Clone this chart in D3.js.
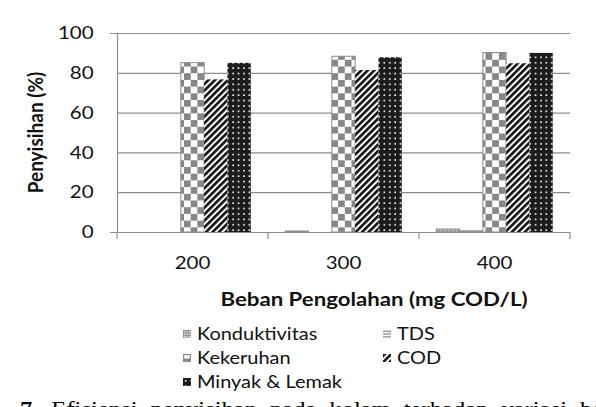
<!DOCTYPE html>
<html>
<head>
<meta charset="utf-8">
<script src="https://cdn.jsdelivr.net/npm/d3@7"></script>
<style>
  body { margin: 0; background: #fff; }
  svg { display: block; }
</style>
</head>
<body>
<svg id="chart" width="596" height="407"></svg>
<script>
'use strict';

// data
const categories = ["200", "300", "400"];
const seriesNames = ["Konduktivitas", "TDS", "Kekeruhan", "COD", "Minyak & Lemak"];
const konduktivitas = [0, 0.5, 1.5];
const tds = [0, 0, 0.6];
const kekeruhan = [85.1, 88.3, 90.2];
const cod = [76.7, 81.4, 84.8];
const minyak = [85.0, 87.8, 90.0];
const yTicks = [0, 20, 40, 60, 80, 100];

const seriesValues = [konduktivitas, tds, kekeruhan, cod, minyak];
const seriesFill = ["url(#pKond)", "url(#pTds)", "url(#pKek)", "url(#pCod)", "url(#pMin)"];
const seriesStroke = ["#8c8c8c", "#8c8c8c", "#8c8c8c", "none", "none"];

const FONT = "Lato, 'Open Sans', sans-serif";
const SX = 1.14; // text in the picture is a bit wider than Lato

function getChartConfig() {
    let margin = { top: 33, right: 26, bottom: 175, left: 117 },
        width = 596 - margin.left - margin.right,
        height = 407 - margin.top - margin.bottom;

    let svg = d3.select("#chart");
    let container = svg.append("g")
        .attr("transform", "translate(" + margin.left + "," + margin.top + ")");

    return { svg, width, height, container, margin };
}

function makePatterns(svg) {
    let defs = svg.append("defs");

    // checker (Kekeruhan)
    let p = defs.append("pattern").attr("id", "pKek")
        .attr("patternUnits", "userSpaceOnUse").attr("width", 13.4).attr("height", 13.4);
    p.append("rect").attr("width", 13.4).attr("height", 13.4).attr("fill", "#fff");
    p.append("rect").attr("width", 6.7).attr("height", 6.7).attr("fill", "#878787");
    p.append("rect").attr("x", 6.7).attr("y", 6.7).attr("width", 6.7).attr("height", 6.7).attr("fill", "#878787");

    // diagonal stripes (COD)
    p = defs.append("pattern").attr("id", "pCod")
        .attr("patternUnits", "userSpaceOnUse").attr("width", 4.6).attr("height", 4.6)
        .attr("patternTransform", "rotate(45)");
    p.append("rect").attr("width", 4.6).attr("height", 4.6).attr("fill", "#fff");
    p.append("rect").attr("width", 2.6).attr("height", 4.6).attr("fill", "#111");

    // dots (Minyak & Lemak)
    p = defs.append("pattern").attr("id", "pMin")
        .attr("patternUnits", "userSpaceOnUse").attr("width", 5.4).attr("height", 5.4);
    p.append("rect").attr("width", 5.4).attr("height", 5.4).attr("fill", "#1c1c1c");
    p.append("rect").attr("x", 2).attr("y", 2).attr("width", 1.6).attr("height", 1.6).attr("fill", "#fff");

    // horizontal lines (TDS)
    p = defs.append("pattern").attr("id", "pTds")
        .attr("patternUnits", "userSpaceOnUse").attr("width", 4).attr("height", 2.6);
    p.append("rect").attr("width", 4).attr("height", 2.6).attr("fill", "#fff");
    p.append("rect").attr("width", 4).attr("height", 1.2).attr("fill", "#8c8c8c");

    // small grid (Konduktivitas)
    p = defs.append("pattern").attr("id", "pKond")
        .attr("patternUnits", "userSpaceOnUse").attr("width", 2.6).attr("height", 2.6);
    p.append("rect").attr("width", 2.6).attr("height", 2.6).attr("fill", "#8c8c8c");
    p.append("rect").attr("x", 1).attr("y", 1).attr("width", 1.4).attr("height", 1.4).attr("fill", "#fff");
}

function getScales(config) {
    let { width, height } = config;
    let xScale = d3.scaleBand().domain(categories).range([0, width]);
    let xInner = d3.scaleBand().domain(seriesNames)
        .range([0, xScale.bandwidth()]).paddingInner(0).paddingOuter(0.74);
    let yScale = d3.scaleLinear().domain([0, 100]).range([height, 0]);
    return { xScale, xInner, yScale };
}

function drawAxis(config, scales) {
    let { container, width, height } = config;
    let { xScale, yScale } = scales;

    // gridlines + left ticks
    let yAxis = d3.axisLeft(yScale).tickValues(yTicks).tickSize(7).tickPadding(13.5);
    let gy = container.append("g").attr("class", "y axis").call(yAxis);
    gy.select(".domain").attr("stroke", "#8c8c8c").attr("stroke-width", 1.2);
    gy.selectAll(".tick line").attr("stroke", "#8c8c8c").attr("stroke-width", 1.2).attr("x2", width);
    gy.selectAll("text")
        .style("font-family", FONT).style("font-size", "18px").attr("fill", "#111")
        .attr("transform", "scale(" + SX + ",1)");

    let xAxis = d3.axisBottom(xScale).tickSize(0).tickPadding(24);
    let gx = container.append("g").attr("class", "x axis")
        .attr("transform", "translate(0," + height + ")").call(xAxis);
    gx.select(".domain").attr("stroke", "#8c8c8c").attr("stroke-width", 1.2);
    gx.selectAll("text")
        .style("font-family", FONT).style("font-size", "18px").attr("fill", "#111")
        .attr("transform", "scale(" + SX + ",1)");

    // boundary ticks between categories
    let bounds = [0].concat(categories.map(c => xScale(c) + xScale.bandwidth()));
    gx.selectAll(".bound").data(bounds).enter().append("line")
        .attr("x1", d => d).attr("x2", d => d)
        .attr("y1", 0).attr("y2", 7)
        .attr("stroke", "#8c8c8c").attr("stroke-width", 1.2);

    container.append("text")
        .attr("transform", "translate(-74," + (height / 2) + ") scale(1.1,1) rotate(-90)")
        .style("text-anchor", "middle")
        .style("font-family", FONT)
        .style("font-weight", "bold")
        .style("font-size", "19px")
        .attr("fill", "#111")
        .text("Penyisihan (%)");

    container.append("text")
        .attr("transform", "translate(257," + (height + 74) + ") scale(1.17,1)")
        .style("text-anchor", "middle")
        .style("font-family", FONT)
        .style("font-weight", "bold")
        .style("font-size", "19px")
        .attr("fill", "#111")
        .text("Beban Pengolahan (mg COD/L)");
}

function drawBars(config, scales) {
    let { container } = config;
    let { xScale, xInner, yScale } = scales;

    let rows = [];
    seriesNames.forEach((name, si) => {
        categories.forEach((cat, ci) => {
            rows.push({ name, si, cat, value: seriesValues[si][ci] });
        });
    });

    container.selectAll(".bar")
        .data(rows.filter(d => d.value > 0))
        .enter().append("rect")
        .attr("class", "bar")
        .attr("x", d => xScale(d.cat) + xInner(d.name))
        .attr("width", xInner.bandwidth())
        .attr("y", d => yScale(d.value))
        .attr("height", d => yScale(0) - yScale(d.value))
        .attr("fill", d => seriesFill[d.si])
        .attr("stroke", d => seriesStroke[d.si])
        .attr("stroke-width", 1);
}

function drawSwatch(g, i) {
    if (i === 2) {
        // kekeruhan: small checker reads as gray box with white corner
        g.append("rect").attr("width", 8).attr("height", 8).attr("fill", "#8a8a8a");
        g.append("rect").attr("x", 1.2).attr("y", 1.2).attr("width", 5.6).attr("height", 3.4).attr("fill", "#fff");
    } else if (i === 1) {
        g.append("rect").attr("width", 8).attr("height", 8).attr("fill", "#fff");
        [1.2, 4, 6.8].forEach(y => g.append("rect").attr("y", y - 0.6).attr("width", 8).attr("height", 1.3).attr("fill", "#8c8c8c"));
    } else {
        g.append("rect").attr("width", 8).attr("height", 8).attr("fill", seriesFill[i]);
    }
}

function drawLegend(config) {
    let { svg } = config;
    let pos = [[183, 334], [383, 334], [183, 358], [383, 358], [183, 382]];

    let items = svg.selectAll(".legend")
        .data(seriesNames)
        .enter().append("g")
        .attr("class", "legend")
        .attr("transform", (d, i) => "translate(" + pos[i][0] + "," + pos[i][1] + ")");

    items.each(function (d, i) {
        drawSwatch(d3.select(this).append("g").attr("transform", "translate(0,-4)"), i);
    });

    items.append("text")
        .attr("transform", "translate(14,0) scale(" + SX + ",1)")
        .attr("dy", "0.36em")
        .style("font-family", FONT)
        .style("font-size", "17.5px")
        .attr("fill", "#111")
        .text(d => d);
}

function drawCaption(config) {
    let { svg } = config;
    let t = svg.append("text")
        .attr("transform", "translate(20,416) scale(1.12,1)")
        .style("font-family", "'Liberation Serif', serif")
        .style("font-size", "22px")
        .style("word-spacing", "6px")
        .attr("fill", "#000");
    t.append("tspan").style("font-weight", "bold").text("7");
    t.append("tspan").text(". Efisiensi penyisihan pada kolam terhadap variasi beban");
}

function drawChart() {
    let config = getChartConfig();
    makePatterns(config.svg);
    let scales = getScales(config);
    drawAxis(config, scales);
    drawBars(config, scales);
    drawLegend(config);
    drawCaption(config);
}

drawChart();
</script>
</body>
</html>
